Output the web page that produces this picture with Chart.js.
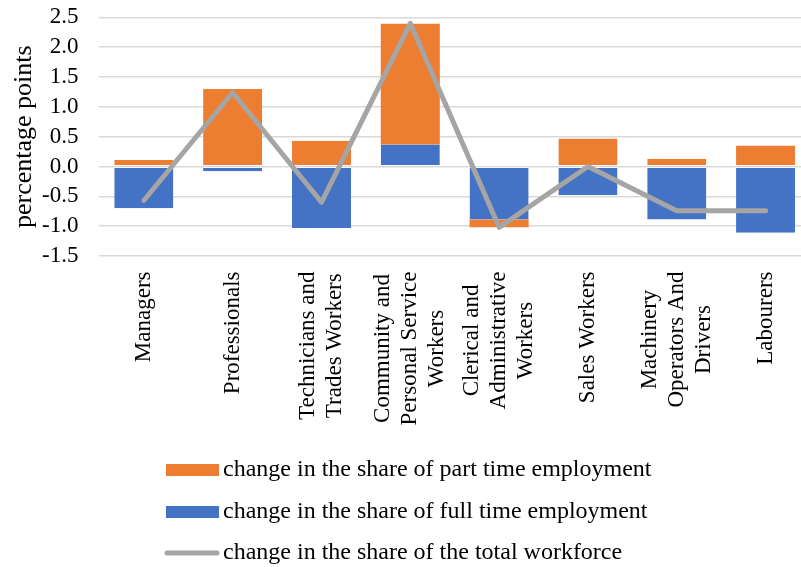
<!DOCTYPE html>
<html><head><meta charset="utf-8">
<script src="https://cdn.jsdelivr.net/npm/chart.js@4/dist/chart.umd.min.js"></script>
<style>html,body{margin:0;padding:0;overflow:hidden;background:#fff}canvas{display:block}</style>
</head><body>
<canvas id="c" width="810" height="567"></canvas>
<script>
const categories = [["Managers"],["Professionals"],["Technicians and","Trades Workers"],["Community and","Personal Service","Workers"],["Clerical and","Administrative","Workers"],["Sales Workers"],["Machinery","Operators And","Drivers"],["Labourers"]];
const partTime = [0.11, 1.30, 0.43, 2.02, -0.13, 0.47, 0.13, 0.35];
const fullTime = [-0.70, -0.08, -1.03, 0.37, -0.89, -0.48, -0.89, -1.11];
const totalWorkforce = [-0.57, 1.24, -0.60, 2.40, -1.02, 0.00, -0.74, -0.74];
const seriesNames = ["change in the share of part time employment","change in the share of full time employment","change in the share of the total workforce"];
const yTicks = [-1.5, -1.0, -0.5, 0.0, 0.5, 1.0, 1.5, 2.0, 2.5];
const yTitle = "percentage points";

const ORANGE = '#ED7D31', BLUE = '#4472C4', GRAY = '#A5A5A5';
const FONT = '"Liberation Serif", "Times New Roman", serif';
Chart.defaults.font.family = FONT;
Chart.defaults.color = '#000';

function swatch(color, w, h, line) {
  const c = document.createElement('canvas'); c.width = w; c.height = h;
  const g = c.getContext('2d');
  if (line) { g.strokeStyle = color; g.lineWidth = 5; g.lineCap = 'round'; g.beginPath(); g.moveTo(3, h/2); g.lineTo(w-3, h/2); g.stroke(); }
  else { g.fillStyle = color; g.fillRect(0, 0, w, h); }
  return c;
}
const legendImgs = [swatch(BLUE, 53, 12), swatch(ORANGE, 53, 12), swatch(GRAY, 56, 6, true)];
const legendRank = {1: 0, 0: 1, 2: 2};

// thin white edge only where a bar starts on the zero line
function zeroEdge(c) {
  const i = c.dataIndex;
  const v = c.raw;
  const baseZero = c.datasetIndex === 0 || Math.sign(partTime[i]) !== Math.sign(fullTime[i]);
  if (!baseZero) return 0;
  return v >= 0 ? { top: 0, left: 0, right: 0, bottom: 0.8 } : { top: 0.8, left: 0, right: 0, bottom: 0 };
}

const xLabelPlugin = {
  id: 'xlabels',
  afterDraw(chart) {
    const xs = chart.scales.x, ctx = chart.ctx;
    ctx.save();
    ctx.font = '23px ' + FONT; ctx.fillStyle = '#000';
    ctx.textBaseline = 'middle'; ctx.textAlign = 'center';
    const lh = 27, top = xs.top + 15.5;
    categories.forEach((lines, i) => {
      const px = xs.getPixelForTick(i);
      const maxW = Math.max(...lines.map(l => ctx.measureText(l).width));
      const cy = top + maxW / 2;
      lines.forEach((ln, j) => {
        const x = px + (j - (lines.length - 1) / 2) * lh;
        ctx.save(); ctx.translate(x, cy); ctx.rotate(-Math.PI / 2); ctx.fillText(ln, 0, 0); ctx.restore();
      });
    });
    ctx.restore();
  }
};
const legendShift = { id: 'legendShift', afterLayout(chart) { chart.legend.left = 155.5; chart.legend.top = 440.5; } };

new Chart(document.getElementById('c'), {
  data: {
    labels: categories.map(l => l.join(' ')),
    datasets: [
      { type: 'bar', label: seriesNames[1], data: fullTime, backgroundColor: BLUE, borderColor: '#FFFFFF', borderWidth: zeroEdge, borderSkipped: false, order: 1, barPercentage: 0.665, categoryPercentage: 1 },
      { type: 'bar', label: seriesNames[0], data: partTime, backgroundColor: ORANGE, borderColor: '#FFFFFF', borderWidth: zeroEdge, borderSkipped: false, order: 1, barPercentage: 0.665, categoryPercentage: 1 },
      { type: 'line', label: seriesNames[2], data: totalWorkforce, borderColor: GRAY, backgroundColor: GRAY, borderWidth: 5, pointRadius: 0, borderCapStyle: 'round', borderJoinStyle: 'round', tension: 0, order: 0 }
    ]
  },
  options: {
    responsive: false, animation: false,
    layout: { padding: { top: 17.3, right: 0, left: 0, bottom: 0 } },
    scales: {
      x: { stacked: true, offset: true, grid: { display: false }, border: { display: false }, ticks: { display: false },
           afterFit(s) { s.height = 176.5; } },
      y: { stacked: true, min: yTicks[0], max: yTicks[yTicks.length - 1],
           afterBuildTicks(s) { s.ticks = yTicks.map(v => ({ value: v })); },
           grid: { color: '#D9D9D9', lineWidth: 1.5, drawTicks: true, tickLength: 21, tickColor: 'rgba(0,0,0,0)' }, border: { display: false },
           ticks: { font: { size: 23 }, color: '#000', padding: 0, autoSkip: false, callback: v => Number(v).toFixed(1) },
           title: { display: true, text: yTitle, font: { size: 26 }, color: '#000', padding: { top: 9, bottom: 0 } },
           afterFit(s) { s.width = 99.4; } }
    },
    plugins: {
      tooltip: { enabled: false },
      legend: { position: 'bottom', align: 'start',
        labels: { usePointStyle: true, pointStyleWidth: 38, boxHeight: 12, padding: 17.5, font: { size: 24 }, color: '#000',
          generateLabels(chart) {
            const items = Chart.defaults.plugins.legend.labels.generateLabels(chart);
            items.forEach(it => { it.pointStyle = legendImgs[it.datasetIndex]; });
            return items;
          },
          sort: (a, b) => legendRank[a.datasetIndex] - legendRank[b.datasetIndex] } }
    }
  },
  plugins: [xLabelPlugin, legendShift]
});
</script>
</body></html>
